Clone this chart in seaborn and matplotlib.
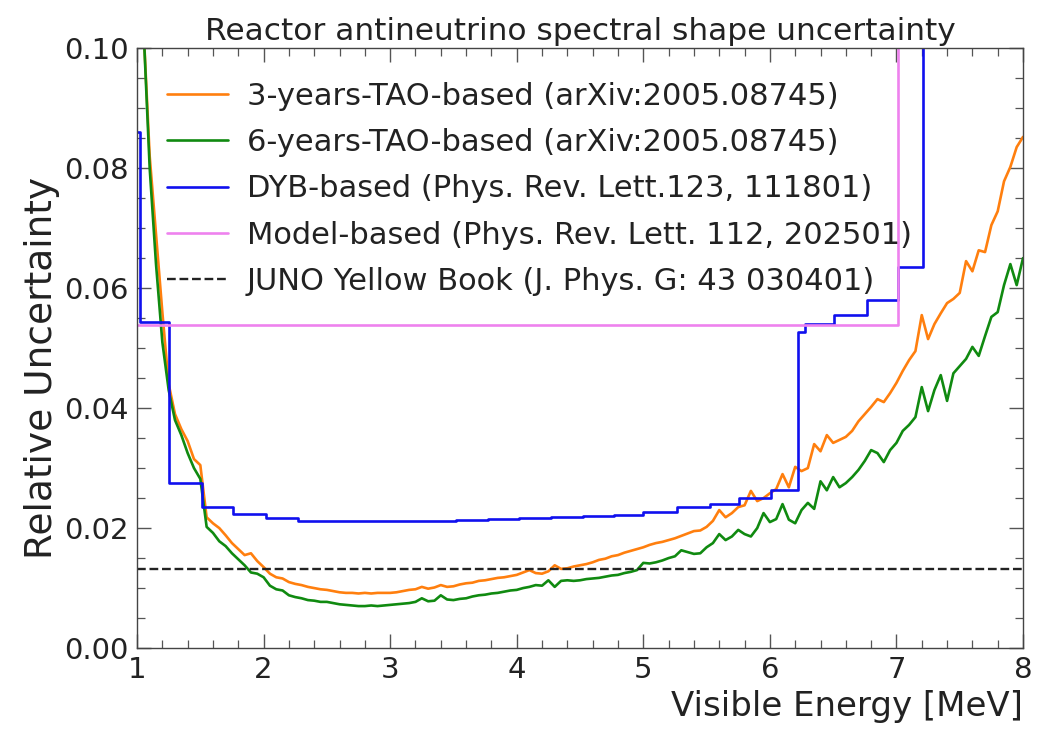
import numpy as np
import pandas as pd
import matplotlib
matplotlib.use("Agg")
import matplotlib.pyplot as plt
from matplotlib.ticker import MultipleLocator
import seaborn as sns

# ---------------- data ----------------
energy = [1.00, 1.05, 1.10, 1.15, 1.20, 1.25, 1.30, 1.35, 1.40, 1.45,
          1.50, 1.55, 1.60, 1.65, 1.70, 1.75, 1.80, 1.85, 1.90, 1.95,
          2.00, 2.05, 2.10, 2.15, 2.20, 2.25, 2.30, 2.35, 2.40, 2.45,
          2.50, 2.55, 2.60, 2.65, 2.70, 2.75, 2.80, 2.85, 2.90, 2.95,
          3.00, 3.05, 3.10, 3.15, 3.20, 3.25, 3.30, 3.35, 3.40, 3.45,
          3.50, 3.55, 3.60, 3.65, 3.70, 3.75, 3.80, 3.85, 3.90, 3.95,
          4.00, 4.05, 4.10, 4.15, 4.20, 4.25, 4.30, 4.35, 4.40, 4.45,
          4.50, 4.55, 4.60, 4.65, 4.70, 4.75, 4.80, 4.85, 4.90, 4.95,
          5.00, 5.05, 5.10, 5.15, 5.20, 5.25, 5.30, 5.35, 5.40, 5.45,
          5.50, 5.55, 5.60, 5.65, 5.70, 5.75, 5.80, 5.85, 5.90, 5.95,
          6.00, 6.05, 6.10, 6.15, 6.20, 6.25, 6.30, 6.35, 6.40, 6.45,
          6.50, 6.55, 6.60, 6.65, 6.70, 6.75, 6.80, 6.85, 6.90, 6.95,
          7.00, 7.05, 7.10, 7.15, 7.20, 7.25, 7.30, 7.35, 7.40, 7.45,
          7.50, 7.55, 7.60, 7.65, 7.70, 7.75, 7.80, 7.85, 7.90, 7.95,
          8.00]

tao_3yr = [0.1350, 0.1040, 0.0820, 0.0690, 0.0560, 0.0440, 0.0390, 0.0365, 0.0345, 0.0315,
           0.0305, 0.0218, 0.0208, 0.0200, 0.0188, 0.0175, 0.0165, 0.0155, 0.0158, 0.0145,
           0.0135, 0.0124, 0.0118, 0.0116, 0.0110, 0.0107, 0.0105, 0.0102, 0.0100, 0.0098,
           0.0097, 0.0095, 0.0093, 0.0092, 0.0092, 0.0091, 0.0092, 0.0091, 0.0092, 0.0092,
           0.0092, 0.0093, 0.0095, 0.0097, 0.0098, 0.0102, 0.0099, 0.0101, 0.0105, 0.0102,
           0.0103, 0.0106, 0.0108, 0.0109, 0.0112, 0.0113, 0.0115, 0.0117, 0.0118, 0.0120,
           0.0122, 0.0126, 0.0130, 0.0125, 0.0124, 0.0128, 0.0138, 0.0132, 0.0133, 0.0136,
           0.0138, 0.0140, 0.0143, 0.0147, 0.0149, 0.0153, 0.0155, 0.0159, 0.0162, 0.0165,
           0.0168, 0.0172, 0.0175, 0.0177, 0.0180, 0.0183, 0.0187, 0.0191, 0.0195, 0.0196,
           0.0202, 0.0212, 0.0230, 0.0218, 0.0225, 0.0235, 0.0238, 0.0262, 0.0245, 0.0250,
           0.0258, 0.0265, 0.0290, 0.0268, 0.0302, 0.0295, 0.0300, 0.0340, 0.0328, 0.0355,
           0.0342, 0.0347, 0.0352, 0.0362, 0.0378, 0.0390, 0.0402, 0.0415, 0.0410, 0.0425,
           0.0442, 0.0462, 0.0480, 0.0495, 0.0555, 0.0515, 0.0540, 0.0558, 0.0575, 0.0582,
           0.0592, 0.0645, 0.0628, 0.0663, 0.0660, 0.0705, 0.0728, 0.0778, 0.0802, 0.0835,
           0.0852]

tao_6yr = [0.1350, 0.1040, 0.0800, 0.0640, 0.0510, 0.0430, 0.0380, 0.0355, 0.0325, 0.0300,
           0.0282, 0.0202, 0.0192, 0.0178, 0.0170, 0.0158, 0.0148, 0.0138, 0.0126, 0.0124,
           0.0118, 0.0104, 0.0098, 0.0096, 0.0088, 0.0085, 0.0083, 0.0080, 0.0079, 0.0077,
           0.0077, 0.0075, 0.0073, 0.0072, 0.0071, 0.0070, 0.0070, 0.0071, 0.0070, 0.0071,
           0.0072, 0.0073, 0.0074, 0.0075, 0.0077, 0.0083, 0.0078, 0.0079, 0.0088, 0.0081,
           0.0080, 0.0082, 0.0083, 0.0086, 0.0088, 0.0089, 0.0091, 0.0092, 0.0094, 0.0096,
           0.0097, 0.0100, 0.0102, 0.0105, 0.0104, 0.0113, 0.0102, 0.0112, 0.0113, 0.0112,
           0.0113, 0.0115, 0.0116, 0.0117, 0.0119, 0.0121, 0.0122, 0.0125, 0.0127, 0.0130,
           0.0142, 0.0141, 0.0143, 0.0146, 0.0150, 0.0153, 0.0163, 0.0160, 0.0157, 0.0158,
           0.0168, 0.0175, 0.0190, 0.0180, 0.0186, 0.0197, 0.0190, 0.0186, 0.0200, 0.0225,
           0.0210, 0.0215, 0.0240, 0.0214, 0.0208, 0.0230, 0.0242, 0.0232, 0.0278, 0.0263,
           0.0285, 0.0268, 0.0275, 0.0285, 0.0297, 0.0312, 0.0330, 0.0325, 0.0310, 0.0330,
           0.0342, 0.0362, 0.0372, 0.0385, 0.0435, 0.0395, 0.0430, 0.0455, 0.0412, 0.0458,
           0.0470, 0.0482, 0.0502, 0.0487, 0.0520, 0.0552, 0.0560, 0.0605, 0.0640, 0.0605,
           0.0650]

dyb_edges = [1.00, 1.02, 1.25, 1.51, 1.76, 2.02, 2.27, 2.52, 2.77, 3.02,
             3.27, 3.52, 3.77, 4.02, 4.27, 4.52, 4.77, 5.00, 5.27, 5.53,
             5.76, 6.01, 6.22, 6.28, 6.51, 6.77, 7.01, 7.21, 8.00]
dyb_values = [0.0860, 0.0543, 0.0275, 0.0235, 0.0224, 0.0216, 0.0212, 0.0211, 0.0211, 0.0211,
              0.0212, 0.0213, 0.0215, 0.0216, 0.0218, 0.0220, 0.0222, 0.0226, 0.0235, 0.0240,
              0.0250, 0.0263, 0.0527, 0.0540, 0.0555, 0.0580, 0.0635, 0.1500]

model_edges = [1.00, 7.01, 8.00]
model_values = [0.0538, 0.1500]

juno_yb_value = 0.0132

labels = ["3-years-TAO-based (arXiv:2005.08745)",
          "6-years-TAO-based (arXiv:2005.08745)",
          "DYB-based (Phys. Rev. Lett.123, 111801)",
          "Model-based (Phys. Rev. Lett. 112, 202501)",
          "JUNO Yellow Book (J. Phys. G: 43 030401)"]

# ---------------- plot ----------------
sns.set_style("ticks")
plt.rcParams["font.family"] = ["DejaVu Sans"]

fig = plt.figure(figsize=(10.5, 7.29), dpi=100)
ax = fig.add_axes([0.1305, 0.111, 0.8438, 0.823])

sns.lineplot(x=energy, y=tao_3yr, ax=ax, color="#ff7f0e", lw=1.9, label=labels[0], sort=False)
sns.lineplot(x=energy, y=tao_6yr, ax=ax, color="#108a10", lw=1.9, label=labels[1], sort=False)

dyb_y = dyb_values + [dyb_values[-1]]
sns.lineplot(x=dyb_edges, y=dyb_y, ax=ax, color="#1010ee", lw=1.9, label=labels[2],
             drawstyle="steps-post", sort=False)
model_y = model_values + [model_values[-1]]
sns.lineplot(x=model_edges, y=model_y, ax=ax, color="violet", lw=1.9, label=labels[3],
             drawstyle="steps-post", sort=False)
ax.axhline(juno_yb_value, color="#222222", ls="--", lw=1.7, label=labels[4])

ax.set_xlim(1, 8)
ax.set_ylim(0, 0.1)
ax.xaxis.set_major_locator(MultipleLocator(1))
ax.xaxis.set_minor_locator(MultipleLocator(0.2))
ax.yaxis.set_major_locator(MultipleLocator(0.02))
ax.yaxis.set_minor_locator(MultipleLocator(0.005))
ax.yaxis.set_major_formatter(matplotlib.ticker.FormatStrFormatter("%.2f"))

for s in ax.spines.values():
    s.set_visible(True)
    s.set_color("#444444")
    s.set_linewidth(1.0)
ax.tick_params(which="both", direction="in", top=True, right=True, colors="#555555",
               labelcolor="#222222")
ax.tick_params(which="major", length=10, width=1.0, labelsize=21, pad=6)
ax.tick_params(which="minor", length=5.5, width=0.9)

ax.set_xlabel("Visible Energy [MeV]", fontsize=24.5, loc="right", color="#222222", labelpad=4)
ax.set_ylabel("Relative Uncertainty", fontsize=27, color="#222222")
ax.yaxis.set_label_coords(-0.087, 0.467)
ax.set_title("Reactor antineutrino spectral shape uncertainty", fontsize=22.5,
             color="#222222", pad=6)

leg = ax.legend(loc="upper left", fontsize=22, frameon=False, handlelength=2.0,
                borderaxespad=0.3, labelspacing=0.57, handletextpad=0.6,
                bbox_to_anchor=(0.01, 0.98))
for t in leg.get_texts():
    t.set_color("#222222")

fig.savefig("out.png", dpi=100)
